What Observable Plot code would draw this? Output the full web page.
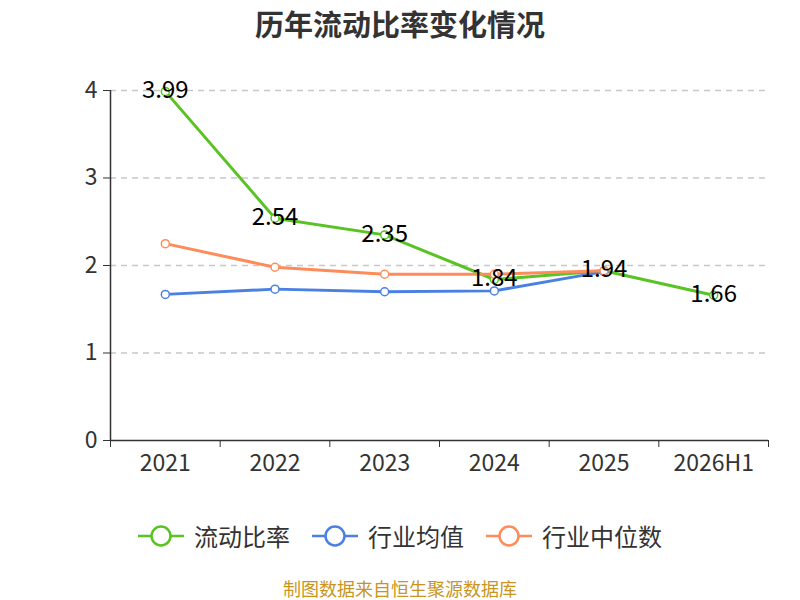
<!DOCTYPE html>
<html><head><meta charset="utf-8">
<script src="https://cdn.jsdelivr.net/npm/d3@7"></script>
<script src="https://cdn.jsdelivr.net/npm/@observablehq/plot@0.6"></script>
<style>
body{margin:0;background:#fff;font-family:"Noto Sans CJK SC","Noto Sans",sans-serif;}
#wrap{position:relative;width:800px;height:600px;overflow:hidden;}
#title{position:absolute;top:0;left:0;width:800px;text-align:center;font-size:29px;font-weight:bold;color:#333;line-height:46px;}
#chart{position:absolute;top:50px;left:0;}
#legend{position:absolute;top:518px;left:0;width:800px;display:flex;justify-content:center;gap:22px;font-size:24px;color:#333;}
.item{display:flex;align-items:center;gap:10px;}
#caption{position:absolute;top:575px;left:0;width:800px;text-align:center;font-size:18px;color:#c8951f;}
</style></head>
<body><div id="wrap"><div id="title">历年流动比率变化情况</div><div id="chart"></div><div id="legend"></div><div id="caption">制图数据来自恒生聚源数据库</div></div>
<script>
const categories = ["2021","2022","2023","2024","2025","2026H1"];
const currentRatio = [3.99, 2.54, 2.35, 1.84, 1.94, 1.66];
const industryAvg = [1.67, 1.73, 1.70, 1.71, 1.93];
const industryMedian = [2.25, 1.98, 1.90, 1.90, 1.94];
const seriesNames = ["流动比率","行业均值","行业中位数"];
const colors = ["#58c322","#4b80e3","#fe8c5a"];
const yTicks = [0,1,2,3,4];

const toRows = (vals) => vals.map((v,i)=>({i, v}));
const series = [currentRatio, industryAvg, industryMedian].map(toRows);
const bounds = d3.range(categories.length+1).map(k=>k-0.5);

const lineMarks = [];
series.forEach((rows,k)=>{
  lineMarks.push(Plot.line(rows,{x:"i",y:"v",stroke:colors[k],strokeWidth:3}));
  lineMarks.push(Plot.dot(rows,{x:"i",y:"v",r:4,fill:"#fff",stroke:colors[k],strokeWidth:1.5}));
});

const chart = Plot.plot({
  width:800, height:440,
  marginTop:40, marginBottom:50, marginLeft:110, marginRight:32,
  style:{fontFamily:'"Noto Sans CJK SC","Noto Sans",sans-serif', fontSize:"23px", color:"#333", background:"transparent"},
  x:{type:"linear", domain:[-0.5, categories.length-0.5]},
  y:{domain:[0,4]},
  marks:[
    Plot.ruleY(yTicks.filter(t=>t>0),{stroke:"#c8c8c8",strokeWidth:1.5,strokeDasharray:"6,5"}),
    Plot.axisY({ticks:yTicks, tickFormat:d=>String(d), tickSize:7, tickPadding:6, fontSize:23, label:null, stroke:"#333"}),
    Plot.axisX({ticks:bounds, tickFormat:()=>"", tickSize:7, label:null, stroke:"#333"}),
    Plot.axisX({ticks:d3.range(categories.length), tickSize:0, tickPadding:14, tickFormat:i=>categories[i], fontSize:23, label:null}),
    Plot.ruleX([-0.5],{y1:0,y2:4,stroke:"#333",strokeWidth:1.5}),
    Plot.ruleY([0],{stroke:"#333",strokeWidth:1.5}),
    ...lineMarks,
    Plot.text(series[0],{x:"i",y:"v",text:d=>d.v.toFixed(2),fill:"#000",fontSize:24,dy:-1})
  ]
});
document.getElementById("chart").appendChild(chart);

const legend = document.getElementById("legend");
seriesNames.forEach((name,k)=>{
  const it = document.createElement("div"); it.className="item";
  it.innerHTML = `<svg width="46" height="24"><line x1="0" y1="12" x2="46" y2="12" stroke="${colors[k]}" stroke-width="2.5"/><circle cx="23" cy="12" r="9.5" fill="#fff" stroke="${colors[k]}" stroke-width="2.5"/></svg><span>${name}</span>`;
  legend.appendChild(it);
});
</script></body></html>
